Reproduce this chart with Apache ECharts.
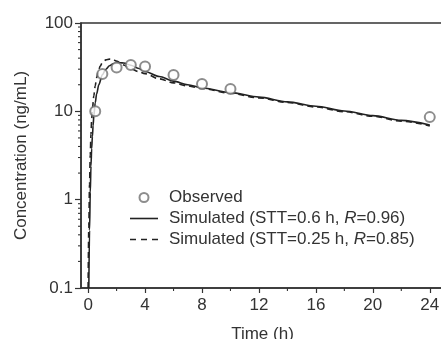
<!DOCTYPE html>
<html>
<head>
<meta charset="utf-8">
<script src="https://cdn.jsdelivr.net/npm/echarts@6/dist/echarts.min.js"></script>
<style>
html,body{margin:0;padding:0;background:#fff;}
#chart{width:441px;height:339px;}
</style>
</head>
<body>
<div id="chart"></div>
<script>
// ---- data ----
const xTickValues = [0, 4, 8, 12, 16, 20, 24];
const xMinorTickValues = [2, 6, 10, 14, 18, 22];
const yMinorTickValues = [0.2,0.3,0.4,0.5,0.6,0.7,0.8,0.9,2,3,4,5,6,7,8,9,20,30,40,50,60,70,80,90];

const obsTime = [0.5, 1, 2, 3, 4, 6, 8, 10, 24];
const obsConc = [10, 26.5, 31.3, 33.5, 32.1, 25.8, 20.4, 17.9, 8.6];

const simATime = [0.05, 0.1, 0.15, 0.2, 0.25, 0.3, 0.35, 0.4, 0.5, 0.6, 0.75, 1.0, 1.25, 1.5, 1.75, 2.0, 2.25, 2.5, 3.0, 3.5, 4.0, 5.0, 6.0, 7.0, 8.0, 10, 12, 14, 16, 18, 20, 22, 24];
const simAConc = [0.1, 0.45, 1.2, 2.4, 3.8, 5.2, 6.9, 8.8, 12.5, 15.8, 20, 26, 30, 32.8, 34.5, 35.3, 35.5, 35.2, 33.3, 30.8, 28.3, 24.8, 22.0, 20.0, 18.4, 16.3, 14.5, 12.8, 11.4, 10.1, 8.95, 7.9, 7.0];

const simBTime = [0.0, 0.05, 0.1, 0.15, 0.2, 0.25, 0.3, 0.4, 0.5, 0.6, 0.7, 0.85, 1.0, 1.25, 1.5, 1.75, 2.0, 2.5, 3.0, 3.5, 4.0, 5.0, 6.0, 7.0, 8.0, 10, 12, 14, 16, 18, 20, 22, 24];
const simBConc = [0.1, 0.5, 1.5, 3.2, 5.5, 8.0, 10.5, 15, 19.5, 24, 28, 32.5, 35.5, 38.2, 39, 38.5, 37, 33.5, 30.5, 28.3, 26.7, 23.3, 21.0, 19.4, 18.1, 16.0, 14.2, 12.6, 11.2, 9.9, 8.8, 7.75, 6.85];

const seriesNames = ['Observed', 'Simulated (STT=0.6 h, R=0.96)', 'Simulated (STT=0.25 h, R=0.85)'];

// ---- chart ----
const FONT = 'Liberation Sans';
const TXT = '#333';
const LINE = '#222';
const MARK = '#707070';
const X_MIN = -0.5, X_MAX = 25, Y_MIN = 0.1, Y_MAX = 100;

const zip = (a, b) => a.map((v, i) => [v, b[i]]);

const minorData = xMinorTickValues.map(v => [v, Y_MIN, 0])
  .concat(yMinorTickValues.map(v => [X_MIN, v, 1]));

const chart = echarts.init(document.getElementById('chart'), null, {renderer: 'canvas'});
chart.setOption({
  animation: false,
  backgroundColor: '#fff',
  grid: {left: 81, top: 23, width: 363, height: 265, containLabel: false, outerBoundsMode: 'none',
    show: true, borderColor: '#333', borderWidth: 1.5, backgroundColor: 'transparent'},
  xAxis: {
    type: 'value', min: X_MIN, max: X_MAX,
    name: 'Time (h)', nameLocation: 'middle', nameGap: 38,
    nameTextStyle: {fontFamily: FONT, fontSize: 17, color: TXT},
    axisLine: {show: true, onZero: false, lineStyle: {color: '#333', width: 1.5}},
    axisTick: {show: true, inside: false, length: 5, customValues: xTickValues, lineStyle: {color: '#333', width: 1.2}},
    axisLabel: {customValues: xTickValues, margin: 9, fontFamily: FONT, fontSize: 17, color: TXT},
    splitLine: {show: false}
  },
  yAxis: {
    type: 'log', logBase: 10, min: Y_MIN, max: Y_MAX,
    name: 'Concentration (ng/mL)', nameLocation: 'middle', nameGap: 51,
    nameTextStyle: {fontFamily: FONT, fontSize: 17, color: TXT},
    axisLine: {show: true, onZero: false, lineStyle: {color: '#333', width: 1.5}},
    axisTick: {show: true, inside: false, length: 6, lineStyle: {color: '#333', width: 1.2}},
    axisLabel: {margin: 8, fontFamily: FONT, fontSize: 17, color: TXT},
    splitLine: {show: false},
    minorTick: {show: false}
  },
  legend: {
    orient: 'vertical', left: 125, top: 184,
    itemWidth: 28, itemHeight: 9, itemGap: 4,
    textStyle: {fontFamily: FONT, fontSize: 17, color: TXT, padding: [0, 0, 0, 6],
      rich: {i: {fontFamily: FONT, fontSize: 17, color: TXT, fontStyle: 'italic'}}},
    formatter: n => n.replace('R=', '{i|R}='),
    data: [
      {name: seriesNames[0], icon: 'emptyCircle', itemStyle: {color: MARK, borderColor: MARK, borderWidth: 1}},
      {name: seriesNames[1], icon: 'path://M0,0h28v1.6h-28z', itemStyle: {color: LINE, borderWidth: 0}},
      {name: seriesNames[2], icon: 'path://M0,0h6v1.6h-6z M11,0h6v1.6h-6z M22,0h6v1.6h-6z', itemStyle: {color: LINE, borderWidth: 0}}
    ]
  },
  series: [
    {
      type: 'custom', silent: true, clip: false, z: 1,
      data: minorData,
      encode: {x: 0, y: 1},
      renderItem: function (params, api) {
        const p = api.coord([api.value(0), api.value(1)]);
        const isY = api.value(2) === 1;
        const shape = isY ? {x1: p[0] - 3, y1: p[1], x2: p[0], y2: p[1]}
                          : {x1: p[0], y1: p[1], x2: p[0], y2: p[1] + 3};
        return {type: 'line', shape: shape, style: {stroke: '#333', lineWidth: 1.1}};
      }
    },
    {
      name: seriesNames[0], type: 'scatter', data: zip(obsTime, obsConc),
      symbol: 'emptyCircle', symbolSize: 10, z: 5,
      itemStyle: {color: MARK, borderColor: MARK, borderWidth: 0.9}
    },
    {
      name: seriesNames[1], type: 'line', data: zip(simATime, simAConc),
      symbol: 'none', smooth: 0.3, smoothMonotone: 'x', z: 3,
      lineStyle: {color: LINE, width: 1.6, type: 'solid'},
      itemStyle: {color: LINE}
    },
    {
      name: seriesNames[2], type: 'line', data: zip(simBTime, simBConc),
      symbol: 'none', smooth: 0.3, smoothMonotone: 'x', z: 3,
      lineStyle: {color: LINE, width: 1.6, type: [6, 4]},
      itemStyle: {color: LINE}
    }
  ]
});
</script>
</body>
</html>
